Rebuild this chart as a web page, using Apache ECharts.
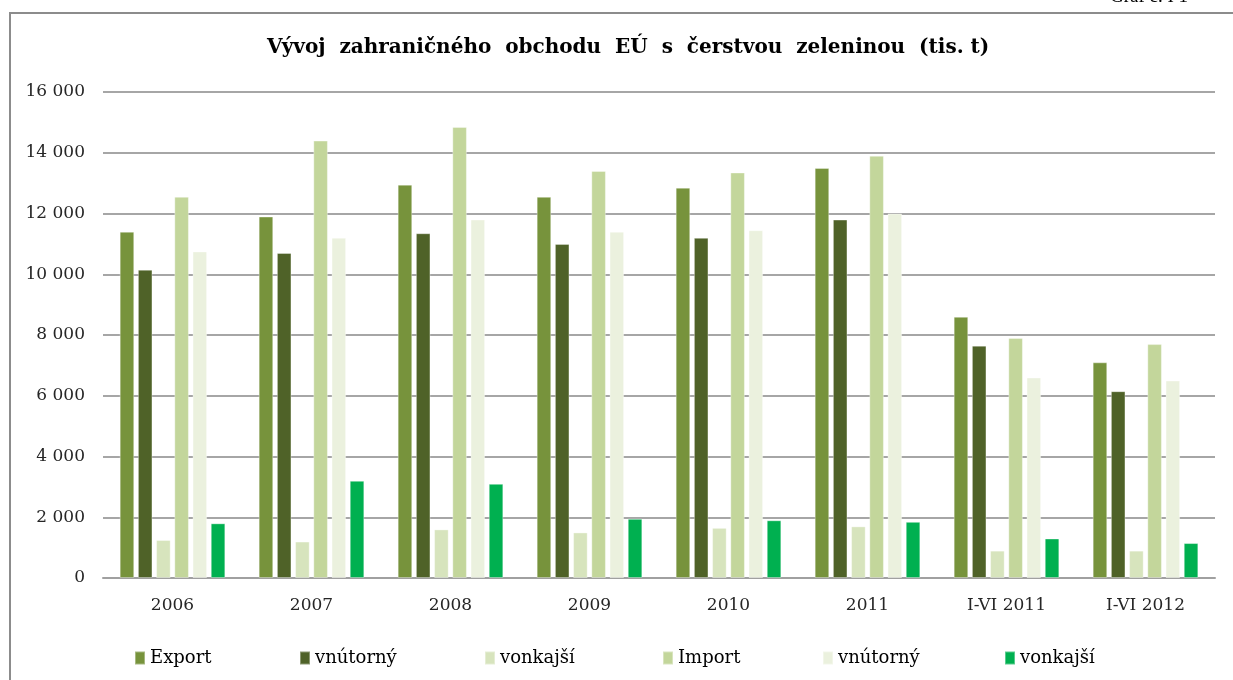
<!DOCTYPE html>
<html>
<head>
<meta charset="utf-8">
<script src="https://cdn.jsdelivr.net/npm/echarts@6/dist/echarts.min.js"></script>
<style>
  html, body { margin: 0; padding: 0; background: #fff; }
  #chart { width: 1233px; height: 680px; }
</style>
</head>
<body>
<div id="chart"></div>
<script>
  // kategórie a hodnoty (tis. t)
  const categories = ['2006', '2007', '2008', '2009', '2010', '2011', 'I-VI 2011', 'I-VI 2012']
  const exportTotal = [11400, 11900, 12950, 12550, 12850, 13500, 8600, 7100]
  const exportInner = [10150, 10700, 11350, 11000, 11200, 11800, 7650, 6150]
  const exportOuter = [1250, 1200, 1600, 1500, 1650, 1700, 900, 900]
  const importTotal = [12550, 14400, 14850, 13400, 13350, 13900, 7900, 7700]
  const importInner = [10750, 11200, 11800, 11400, 11450, 12000, 6600, 6500]
  const importOuter = [1800, 3200, 3100, 1950, 1900, 1850, 1300, 1150]

  const seriesNames = ['Export', 'vnútorný', 'vonkajší', 'Import', 'vnútorný ', 'vonkajší ']
  const seriesData = [exportTotal, exportInner, exportOuter, importTotal, importInner, importOuter]
  const colors = ['#77933c', '#4f6228', '#d7e4bd', '#c3d69b', '#ebf1de', '#00b050']
  // x pozície položiek legendy
  const legendLeft = [134, 299, 484, 662, 822, 1004]

  const serif = '"DejaVu Serif", "Liberation Serif", serif'

  const chart = echarts.init(document.getElementById('chart'))

  chart.setOption({
    animation: false,
    color: colors,
    title: {
      text: 'Vývoj  zahraničného  obchodu  EÚ  s  čerstvou  zeleninou  (tis. t)',
      left: 262,
      top: 33,
      textStyle: {
        fontFamily: serif,
        fontSize: 20,
        fontWeight: 'bold',
        color: '#000'
      }
    },
    graphic: [
      {
        type: 'rect',
        shape: { x: 10, y: 13, width: 1400, height: 800 },
        style: { fill: 'none', stroke: '#8c8c8c', lineWidth: 2 },
        silent: true
      },
      {
        type: 'text',
        left: 1110,
        top: -12,
        style: { text: 'Graf č. I 1', font: '19px "Liberation Serif", serif', fill: '#000' }
      }
    ],
    legend: seriesNames.map((name, i) => ({
      left: legendLeft[i],
      top: 649,
      padding: 0,
      itemWidth: 10,
      itemHeight: 13,
      itemGap: 0,
      icon: 'rect',
      textStyle: {
        fontFamily: serif,
        fontSize: 18,
        color: '#000'
      },
      data: [name]
    })),
    grid: {
      left: 103,
      right: 18,
      top: 92,
      bottom: 102
    },
    xAxis: {
      type: 'category',
      data: categories,
      axisTick: { show: false },
      axisLine: { lineStyle: { color: '#a0a0a0', width: 2 } },
      axisLabel: {
        fontFamily: serif,
        fontSize: 17,
        color: '#262626',
        margin: 19
      }
    },
    yAxis: {
      type: 'value',
      min: 0,
      max: 16000,
      interval: 2000,
      axisLine: { show: false },
      axisTick: { show: false },
      splitLine: { lineStyle: { color: '#a6a6a6', width: 2 } },
      axisLabel: {
        fontFamily: serif,
        fontSize: 17,
        color: '#262626',
        margin: 18,
        formatter: v => String(v).replace(/\B(?=(\d{3})+(?!\d))/g, ' ')
      }
    },
    series: seriesNames.map((name, i) => ({
      name,
      type: 'bar',
      data: seriesData[i],
      barCategoryGap: '24%',
      barGap: '25%',
      itemStyle: {
        borderColor: 'rgba(255,255,255,0.35)',
        borderWidth: 1
      }
    }))
  })
</script>
</body>
</html>
